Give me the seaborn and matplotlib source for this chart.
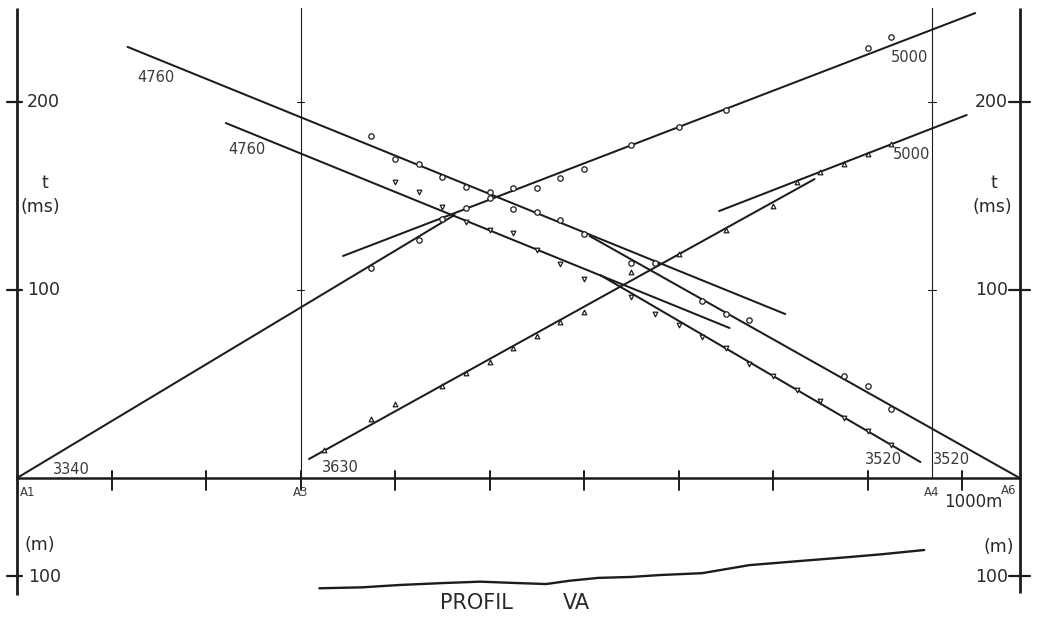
import numpy as np
import pandas as pd
import matplotlib
matplotlib.use("Agg")
import matplotlib.pyplot as plt
import seaborn as sns

# ---------------- data ----------------
# travel-time branches (distance in m, time in ms) with apparent velocities (m/s)
branch_labels = ["3340", "5000", "3630", "5000", "4760", "3520", "4760", "3520"]
branch_x0 = [0, 345, 309, 743, 117, 606, 221, 617]
branch_x1 = [463, 1014, 844, 1005, 813, 1061, 754, 956]
branch_t0 = [0.0, 118.1, 10.1, 142.0, 229.3, 128.7, 188.8, 108.0]
branch_t1 = [139.9, 247.3, 159.0, 193.1, 87.2, 0.0, 79.8, 8.5]

# observed first arrivals per shot point
a1_x = [375, 425, 450, 475, 500, 525, 550, 575, 600, 650, 700, 750, 900, 925]
a1_t = [111.7, 126.6, 137.8, 143.8, 148.8, 154.4, 154.4, 159.7, 164.4, 177.1,
        186.9, 195.7, 228.7, 234.6]
a3_x = [325, 375, 400, 450, 475, 500, 525, 550, 575, 600, 650, 700, 750, 800,
        825, 850, 875, 900, 925]
a3_t = [14.9, 31.2, 39.4, 48.9, 56.0, 61.9, 69.0, 75.5, 83.1, 88.5, 109.4,
        119.1, 131.9, 144.8, 157.2, 162.6, 167.0, 172.3, 177.7]
a4_x = [400, 425, 450, 475, 500, 525, 550, 575, 600, 650, 675, 700, 725, 750,
        775, 800, 825, 850, 875, 900, 925]
a4_t = [157.2, 152.0, 144.3, 136.4, 131.9, 130.3, 121.3, 113.8, 106.0, 96.5,
        87.2, 81.4, 75.2, 69.0, 60.5, 54.4, 46.8, 41.1, 31.8, 25.2, 17.6]
a6_x = [375, 400, 425, 450, 475, 500, 525, 550, 575, 600, 650, 675, 725, 750,
        775, 875, 900, 925]
a6_t = [182.1, 169.7, 167.0, 159.9, 154.9, 152.0, 143.1, 141.3, 137.2, 129.6,
        114.5, 114.4, 94.3, 87.2, 84.0, 54.3, 49.1, 36.5]

# stations
station_names = ["A1", "A3", "A4", "A6"]
station_x = [0, 300, 968, 1061]

# distance ticks (m) and time ticks (ms)
dist_ticks = [100, 200, 300, 400, 500, 600, 700, 800, 900, 1000]
time_ticks = [100, 200]

# surface profile (elevation, m)
prof_x = [320, 365, 405, 450, 490, 530, 560, 585, 615, 650, 680, 725, 775, 830,
          880, 915, 960]
prof_z = [87, 88, 90.5, 92.5, 94, 92.5, 91.5, 95, 98, 99, 101, 103, 111.5, 116,
          120, 123, 127.5]

# ---------------- figure ----------------
sns.set_theme(style="white")
plt.rcParams["font.family"] = ["DejaVu Sans"]
W, H = 1037, 619
PX_M, PX_MS = 0.945, 1.88   # pixels per metre / per millisecond
X0PX, T0PX = 17, 478
fig = plt.figure(figsize=(W / 100, H / 100), dpi=100)
fig.patch.set_facecolor("white")
ax = fig.add_axes([0, 0, 1, 1])
ax.set_xlim(-X0PX / PX_M, (W - X0PX) / PX_M)
ax.set_ylim((T0PX - H) / PX_MS, T0PX / PX_MS)
ax.axis("off")

ink = "#1c1c1c"
txt = "#2a2a2a"

def ftext(px, py, s, size, ha="center", va="center", color=txt):
    fig.text(px / W, 1 - py / H, s, fontsize=size, ha=ha, va=va, color=color)

x_end = station_x[-1]
t_top = 250
# frame axes
ax.plot([0, 0], [t_top, -62], color=ink, lw=2.0, solid_capstyle="butt")
ax.plot([x_end, x_end], [t_top, -61], color=ink, lw=2.0, solid_capstyle="butt")
ax.plot([0, x_end], [0, 0], color=ink, lw=1.8)
for sx in station_x[1:3]:
    ax.plot([sx, sx], [t_top, 0], color=ink, lw=0.8)
    for tt in time_ticks:
        ax.plot([sx - 4, sx + 4], [tt, tt], color=ink, lw=0.8)
for xt in dist_ticks:
    ax.plot([xt, xt], [3.6, -6.4], color=ink, lw=1.4)
for tt in time_ticks:
    ax.plot([-10.5, 5.5], [tt, tt], color=ink, lw=1.6)
    ax.plot([x_end - 11, x_end + 11], [tt, tt], color=ink, lw=1.6)

# travel-time branches
rows = []
for i, lab in enumerate(branch_labels):
    rows.append(dict(branch=i, x=branch_x0[i], t=branch_t0[i]))
    rows.append(dict(branch=i, x=branch_x1[i], t=branch_t1[i]))
df_lines = pd.DataFrame(rows)
sns.lineplot(data=df_lines, x="x", y="t", units="branch", estimator=None,
             sort=False, color=ink, lw=1.45, ax=ax, legend=False)

# observed points
for xs, ts, mk, sz in [(a1_x, a1_t, "o", 15), (a6_x, a6_t, "o", 15),
                       (a3_x, a3_t, "^", 11), (a4_x, a4_t, "v", 11)]:
    sns.scatterplot(x=xs, y=ts, marker=mk, s=sz, facecolor="white",
                    edgecolor=ink, linewidth=0.9, ax=ax, zorder=5, legend=False)

# velocity labels
lab_pos = [(71, 469), (909, 57), (340, 468), (912, 154),
           (156, 78), (951, 460), (247, 149), (884, 460)]
for lab, (px, py) in zip(branch_labels, lab_pos):
    ftext(px, py, lab, 10.5, color="#3a3a3a")

# station labels
st_pos = [(28, 492), (301, 492), (932, 492), (1009, 490)]
for nm, (px, py) in zip(station_names, st_pos):
    ftext(px, py, nm, 8.5, color="#3a3a3a")
ftext(973, 502, "1000m", 12)

# time axis labels
ftext(27, 102, "200", 12.5, ha="left")
ftext(27, 290, "100", 12.5, ha="left")
ftext(1008, 102, "200", 12.5, ha="right")
ftext(1008, 290, "100", 12.5, ha="right")
ftext(45, 183, "t", 12.5)
ftext(40, 207, "(ms)", 12.5)
ftext(994, 183, "t", 12.5)
ftext(992, 207, "(ms)", 12.5)

# ---------------- elevation profile ----------------
axp = fig.add_axes([0, 0, 1, 100 / H])
axp.set_xlim(ax.get_xlim())
axp.set_ylim(100 - (H - 576) / PX_M, 100 + (576 - (H - 100)) / PX_M)
axp.axis("off")
axp.patch.set_alpha(0)
sns.lineplot(x=prof_x, y=prof_z, sort=False, color=ink, lw=1.7, ax=axp)
axp.plot([-10.5, 5.5], [100, 100], color=ink, lw=1.6)
axp.plot([x_end - 11, x_end + 11], [100, 100], color=ink, lw=1.6)
ftext(40, 545, "(m)", 12.5)
ftext(28, 577, "100", 12.5, ha="left")
ftext(999, 547, "(m)", 12.5)
ftext(1008, 577, "100", 12.5, ha="right")
ftext(476, 603, "PROFIL", 15)
ftext(576, 603, "VA", 15)

fig.savefig("out.png", dpi=100, facecolor="white")
